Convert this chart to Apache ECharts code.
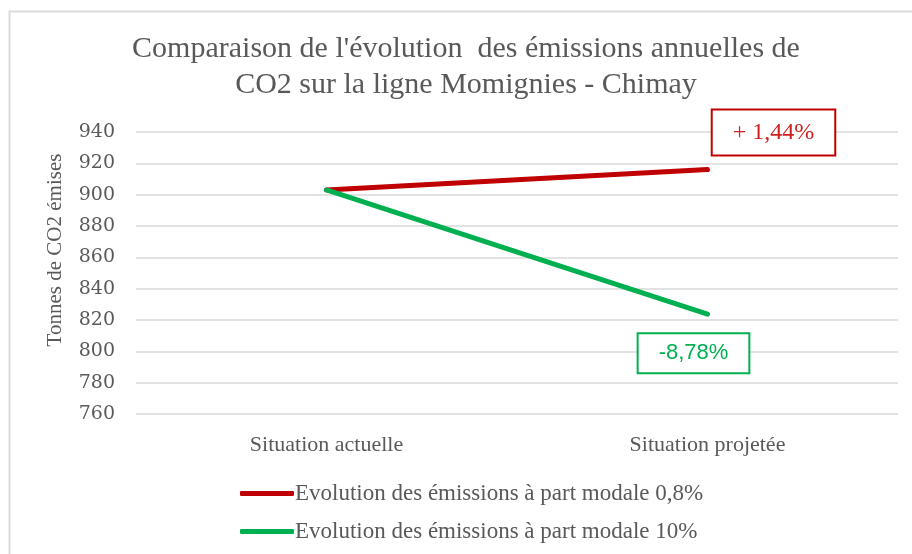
<!DOCTYPE html>
<html>
<head>
<meta charset="utf-8">
<script src="https://cdn.jsdelivr.net/npm/echarts@6/dist/echarts.min.js"></script>
<style>
  html, body { margin: 0; padding: 0; background: #fff; }
  #chart { width: 912px; height: 554px; }
</style>
</head>
<body>
<div id="chart"></div>
<script>
// Categories on the horizontal axis
const categories = ['Situation actuelle', 'Situation projetée'];

// Annual CO2 emissions (tonnes) for each modal-share scenario
const seriesNames = [
  'Evolution des émissions à part modale 0,8%',
  'Evolution des émissions à part modale 10%'
];
const emissions08 = [903, 916];
const emissions10 = [903, 823.7];

// Change labels shown at the projected point
const changeLabels = ['+ 1,44%', '-8,78%'];

// Y axis range
const yMin = 760, yMax = 940, yStep = 20;

const RED = '#C00000';
const GREEN = '#00B050';
const GREY_TEXT = '#595959';

function withEndLabel(values, text, style) {
  return values.map((v, i) => i === values.length - 1
    ? { value: v, label: Object.assign({ show: true, formatter: text }, style) }
    : v);
}

const chart = echarts.init(document.getElementById('chart'), null, { renderer: 'canvas' });

chart.setOption({
  backgroundColor: '#fff',
  animation: false,
  title: {
    text: "Comparaison de l'évolution  des émissions annuelles de\nCO2 sur la ligne Momignies - Chimay",
    left: 461,
    top: 26,
    textAlign: 'center',
    textStyle: {
      fontFamily: 'Liberation Serif',
      fontSize: 30,
      fontWeight: 'normal',
      color: GREY_TEXT,
      lineHeight: 36
    }
  },
  legend: {
    orient: 'vertical',
    left: 235,
    top: 477,
    itemWidth: 54,
    itemHeight: 5,
    itemGap: 15,
    icon: 'roundRect',
    data: seriesNames,
    textStyle: {
      fontFamily: 'Liberation Serif',
      fontSize: 23,
      color: GREY_TEXT,
      padding: [0, 0, 0, -4]
    }
  },
  grid: { left: 136, right: 14, top: 132, bottom: 140 },
  xAxis: {
    type: 'category',
    data: categories,
    boundaryGap: true,
    axisLine: { show: false },
    axisTick: { show: false },
    axisLabel: {
      margin: 20,
      fontFamily: 'Liberation Serif',
      fontSize: 22,
      color: GREY_TEXT
    }
  },
  yAxis: {
    type: 'value',
    min: yMin,
    max: yMax,
    interval: yStep,
    axisLine: { show: false },
    axisTick: { show: false },
    splitLine: { lineStyle: { color: '#d9d9d9', width: 1.5 } },
    axisLabel: {
      margin: 21,
      fontFamily: 'DejaVu Serif',
      fontSize: 19,
      color: GREY_TEXT
    }
  },
  graphic: [
    {
      type: 'rect',
      shape: { x: 9.5, y: 11.5, width: 960, height: 600 },
      style: { fill: null, stroke: '#d9d9d9', lineWidth: 2 },
      silent: true
    },
    {
      type: 'text',
      x: 55,
      y: 250,
      rotation: Math.PI / 2,
      style: {
        text: 'Tonnes de CO2 émises',
        fontFamily: 'Liberation Serif',
        fontSize: 21,
        fill: GREY_TEXT,
        textAlign: 'center',
        textVerticalAlign: 'middle'
      },
      silent: true
    }
  ],
  series: [
    {
      name: seriesNames[0],
      type: 'line',
      data: withEndLabel(emissions08, changeLabels[0], {
        position: 'inside',
        offset: [66, -37],
        fontFamily: 'Liberation Serif',
        fontSize: 24,
        color: '#D02020',
        backgroundColor: '#fff',
        borderColor: RED,
        borderWidth: 2,
        padding: [10, 20, 10, 20]
      }),
      symbol: 'circle',
      symbolSize: 1,
      showSymbol: true,
      itemStyle: { color: RED },
      lineStyle: { color: RED, width: 5, cap: 'round' },
      z: 3
    },
    {
      name: seriesNames[1],
      type: 'line',
      data: withEndLabel(emissions10, changeLabels[1], {
        position: 'inside',
        offset: [-14, 39],
        fontFamily: 'Liberation Sans',
        fontSize: 22,
        color: GREEN,
        backgroundColor: '#fff',
        borderColor: GREEN,
        borderWidth: 2,
        padding: [8, 20, 8, 20]
      }),
      symbol: 'circle',
      symbolSize: 1,
      showSymbol: true,
      itemStyle: { color: GREEN },
      lineStyle: { color: GREEN, width: 5, cap: 'round' },
      z: 4
    }
  ]
});
</script>
</body>
</html>
